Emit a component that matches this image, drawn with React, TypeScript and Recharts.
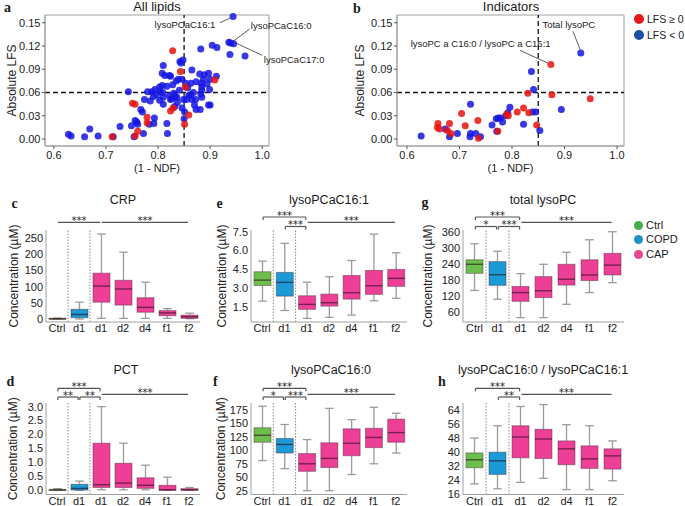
import React from 'react';
import {
  ScatterChart, Scatter, ComposedChart, Bar, XAxis, YAxis,
  ReferenceLine, ReferenceArea, ReferenceDot,
} from 'recharts';

const SANS = '"Liberation Sans", Arial, Helvetica, sans-serif';
const SERIF = '"Liberation Serif", "Times New Roman", serif';

// ---------------- Panels a / b : LFS vs (1 - NDF) ----------------
const ndfTicks = [0.6, 0.7, 0.8, 0.9, 1.0];
const lfsTicks = [0, 0.03, 0.06, 0.09, 0.12, 0.15];
const ndfCutoff = 0.85;
const lfsCutoff = 0.06;

const allLipidsPos: [number, number][] = [
  [0.712, 0.003], [0.756, 0.004], [0.761, 0.010], [0.751, 0.046], [0.756, 0.045],
  [0.779, 0.028], [0.779, 0.021], [0.824, 0.036], [0.829, 0.040], [0.828, 0.114],
  [0.843, 0.087], [0.851, 0.019], [0.852, 0.067], [0.859, 0.031], [0.909, 0.076],
];
const allLipidsNeg: [number, number][] = [
  [0.628, 0.006], [0.633, 0.004], [0.659, 0.003], [0.669, 0.013], [0.685, 0.004],
  [0.714, 0.003], [0.727, 0.016], [0.743, 0.061], [0.749, 0.017], [0.756, 0.024],
  [0.759, 0.022], [0.761, 0.019], [0.754, 0.003], [0.772, 0.007], [0.767, 0.038],
  [0.770, 0.035], [0.774, 0.051], [0.780, 0.061], [0.783, 0.019], [0.785, 0.049],
  [0.788, 0.061], [0.792, 0.020], [0.793, 0.027], [0.794, 0.064], [0.803, 0.050],
  [0.804, 0.061], [0.808, 0.069], [0.810, 0.095], [0.808, 0.085], [0.810, 0.045],
  [0.809, 0.060], [0.813, 0.082], [0.817, 0.020], [0.818, 0.007], [0.822, 0.082],
  [0.822, 0.056], [0.810, 0.054], [0.826, 0.052], [0.830, 0.059], [0.833, 0.055],
  [0.836, 0.054], [0.837, 0.047], [0.828, 0.070], [0.839, 0.077], [0.835, 0.075],
  [0.842, 0.100], [0.848, 0.102], [0.844, 0.098], [0.846, 0.040], [0.849, 0.051],
  [0.850, 0.026], [0.841, 0.063], [0.846, 0.077], [0.859, 0.056], [0.854, 0.051],
  [0.857, 0.066], [0.862, 0.057], [0.865, 0.051], [0.865, 0.089], [0.863, 0.072],
  [0.868, 0.060], [0.870, 0.044], [0.873, 0.074], [0.880, 0.084], [0.881, 0.038],
  [0.882, 0.116], [0.883, 0.072], [0.884, 0.067], [0.884, 0.063], [0.884, 0.054],
  [0.887, 0.077], [0.889, 0.083], [0.894, 0.071], [0.897, 0.085], [0.899, 0.064],
  [0.900, 0.077], [0.900, 0.044], [0.897, 0.044], [0.904, 0.121], [0.913, 0.118],
  [0.912, 0.081], [0.882, 0.058], [0.936, 0.125], [0.939, 0.124], [0.945, 0.123],
  [0.944, 0.158], [0.938, 0.109], [0.967, 0.107], [0.797, 0.057], [0.803, 0.067],
  [0.817, 0.068], [0.824, 0.051], [0.832, 0.042], [0.851, 0.035], [0.853, 0.072],
  [0.872, 0.051], [0.873, 0.038], [0.791, 0.055], [0.824, 0.081],
];

const indicatorsPos: [number, number][] = [
  [0.659, 0.020], [0.658, 0.015], [0.662, 0.013], [0.677, 0.011], [0.681, 0.020],
  [0.684, 0.007], [0.704, 0.033], [0.711, 0.017], [0.735, 0.024], [0.736, 0.001],
  [0.773, 0.010], [0.790, 0.032], [0.793, 0.030], [0.810, 0.035], [0.822, 0.040],
  [0.830, 0.059], [0.832, 0.034], [0.847, 0.018], [0.874, 0.096], [0.876, 0.057],
  [0.949, 0.052],
];
const indicatorsNeg: [number, number][] = [
  [0.627, 0.004], [0.673, 0.013], [0.681, 0.003], [0.696, 0.007], [0.721, 0.045],
  [0.721, 0.007], [0.720, 0.003], [0.731, 0.007], [0.740, 0.003], [0.762, 0.018],
  [0.770, 0.026], [0.774, 0.027], [0.778, 0.027], [0.771, 0.010], [0.782, 0.022],
  [0.788, 0.030], [0.792, 0.034], [0.796, 0.041], [0.822, 0.019], [0.837, 0.087],
  [0.841, 0.064], [0.839, 0.035], [0.845, 0.035], [0.853, 0.011], [0.894, 0.038],
  [0.931, 0.111],
];

type Note = { text: string; at: [number, number]; anchor: string; from: [number, number]; to: [number, number] };
const allLipidsNotes: Note[] = [
  { text: 'lysoPCaC16:1', at: [0.910, 0.148], anchor: 'end', from: [0.919, 0.150], to: [0.938, 0.156] },
  { text: 'lysoPCaC16:0', at: [0.978, 0.146], anchor: 'start', from: [0.976, 0.142], to: [0.942, 0.125] },
  { text: 'lysoPCaC17:0', at: [1.003, 0.102], anchor: 'start', from: [1.000, 0.108], to: [0.949, 0.124] },
];
const indicatorsNotes: Note[] = [
  { text: 'Total lysoPC', at: [0.858, 0.148], anchor: 'start', from: [0.916, 0.139], to: [0.930, 0.115] },
  { text: 'lysoPC a C16:0 / lysoPC a C16:1', at: [0.607, 0.123], anchor: 'start', from: [0.815, 0.1145], to: [0.868, 0.098] },
];

// ---------------- Panels c-h : box plots ----------------
const groupLabels = ['Ctrl', 'd1', 'd1', 'd2', 'd4', 'f1', 'f2'];
const groupOf = ['Ctrl', 'COPD', 'CAP', 'CAP', 'CAP', 'CAP', 'CAP'];
const legendGroups = ['Ctrl', 'COPD', 'CAP'];

// [min, q1, median, q3, max]
const crpStats = [[0, 0.5, 1, 2, 3], [0, 4, 14, 30, 52], [2, 52, 102, 142, 263], [2, 43, 93, 120, 207], [2, 21, 36, 66, 114], [2, 10, 19, 26, 32], [1, 2, 7, 12, 18]];
const c161Stats = [[1.95, 3.2, 3.63, 4.3, 5.15], [1.2, 2.35, 3.45, 4.25, 6.57], [0.57, 1.29, 1.69, 2.38, 3.47], [0.65, 1.55, 1.82, 2.51, 3.9], [0.83, 2.11, 2.62, 4.0, 5.2], [1.98, 2.49, 3.18, 4.41, 7.31], [2.17, 3.13, 3.77, 4.49, 5.82]];
const totalStats = [[142, 206, 240, 257, 317], [109, 161, 201, 250, 289], [40, 101, 134, 157, 205], [40, 115, 141, 194, 240], [90, 162, 184, 240, 285], [134, 179, 200, 257, 332], [171, 200, 237, 281, 362]];
const pctStats = [[0, 0, 0.01, 0.035, 0.06], [0, 0.01, 0.07, 0.215, 0.33], [0.02, 0.1, 0.2, 1.69, 3.0], [0.02, 0.1, 0.26, 0.97, 1.69], [0.02, 0.07, 0.18, 0.45, 0.9], [0, 0, 0.02, 0.18, 0.47], [0, 0, 0.02, 0.06, 0.1]];
const c160Stats = [[81, 115, 128, 142, 182], [66, 95, 111, 122, 148], [25, 61, 75, 94, 120], [25, 68, 85, 114, 178], [55, 90, 113, 140, 157], [75, 105, 124, 141, 180], [95, 115, 133, 158, 169]];
const ratioStats = [[22, 31.2, 35.7, 39.6, 48], [19.2, 27.4, 35.1, 40, 55], [22.9, 36.8, 48.6, 55, 65.9], [25.2, 36.4, 47.5, 53, 67], [18.8, 32.9, 41.9, 46.4, 55.6], [18.8, 30.8, 36.2, 43.6, 55], [23.8, 30.4, 37.9, 41.9, 46.4]];

const crpTicks = [0, 50, 100, 150, 200, 250];
const c161Ticks = [1.5, 3.0, 4.5, 6.0, 7.5];
const totalTicks = [60, 120, 180, 240, 300, 360];
const pctTicks = [0, 0.5, 1.0, 1.5, 2.0, 2.5, 3.0];
const c160Ticks = [25, 50, 75, 100, 125, 150, 175];
const ratioTicks = [16, 24, 32, 40, 48, 56, 64];

type Sig = { from: number; to: number; label: string; tier: number; bracket: boolean };
const crpSig: Sig[] = [
  { from: 0, to: 2, label: '***', tier: 1, bracket: false },
  { from: 2, to: 6, label: '***', tier: 1, bracket: false },
];
const c161Sig: Sig[] = [
  { from: 0, to: 2, label: '***', tier: 2, bracket: true },
  { from: 1, to: 2, label: '***', tier: 0, bracket: true },
  { from: 2, to: 6, label: '***', tier: 1, bracket: false },
];
const totalSig: Sig[] = [
  { from: 0, to: 2, label: '***', tier: 2, bracket: true },
  { from: 0, to: 1, label: '*', tier: 0, bracket: true },
  { from: 1, to: 2, label: '***', tier: 0, bracket: true },
  { from: 2, to: 6, label: '***', tier: 1, bracket: false },
];
const pctSig: Sig[] = [
  { from: 0, to: 2, label: '***', tier: 2, bracket: true },
  { from: 0, to: 1, label: '**', tier: 0, bracket: true },
  { from: 1, to: 2, label: '**', tier: 0, bracket: true },
  { from: 2, to: 6, label: '***', tier: 1, bracket: false },
];
const c160Sig: Sig[] = [
  { from: 0, to: 2, label: '***', tier: 2, bracket: true },
  { from: 0, to: 1, label: '*', tier: 0, bracket: true },
  { from: 1, to: 2, label: '***', tier: 0, bracket: true },
  { from: 2, to: 6, label: '***', tier: 1, bracket: false },
];
const ratioSig: Sig[] = [
  { from: 0, to: 2, label: '***', tier: 2, bracket: true },
  { from: 1, to: 2, label: '**', tier: 0, bracket: true },
  { from: 2, to: 6, label: '***', tier: 1, bracket: false },
];

// ---------------- styles ----------------
const RED = '#e8140f';
const BLUE = '#1515e2';
const GROUP_FILL: Record<string, string> = { Ctrl: '#6bbf4a', COPD: '#1a9ad6', CAP: '#ee3f97' };
const LEGEND_FILL: Record<string, string> = { Ctrl: '#46ad4f', COPD: '#1f93bf', CAP: '#ea4590' };
const ROW1_TIERS = [3.5, 7.7, 13];
const ROW2_TIERS = [6, 8.7, 14.7];

const dotShape = (color: string) => (p: any) =>
  p && p.cx != null ? <circle cx={p.cx} cy={p.cy} r={3.5} fill={color} fillOpacity={0.85} /> : <g />;

function LfsScatter({ left, width, axisW, right, pos, neg, notes, ylabelOffset, xDomain }: any) {
  const yDomain: [number, number] = [-0.009, 0.16];
  const toPts = (arr: [number, number][]) => arr.map(([x, y]) => ({ x, y }));
  return (
    <div style={{ position: 'absolute', left, top: 0 }}>
      <ScatterChart width={width} height={176} margin={{ top: 15, right, bottom: 0, left: 0 }}>
        <XAxis type="number" dataKey="x" domain={xDomain} ticks={ndfTicks} interval={0}
          tickFormatter={(v: number) => v.toFixed(1)} height={30} tickSize={3} tickMargin={2}
          axisLine={{ stroke: '#a0a0a0' }} tickLine={{ stroke: '#555' }} tick={{ fontSize: 11, fill: '#222' }}
          label={{ value: '(1 - NDF)', position: 'insideBottom', offset: 4, fontSize: 11, fill: '#222' }} />
        <YAxis type="number" dataKey="y" domain={yDomain} ticks={lfsTicks} interval={0}
          tickFormatter={(v: number) => v.toFixed(2)} width={axisW} tickSize={3} tickMargin={1.5}
          axisLine={{ stroke: '#a0a0a0' }} tickLine={{ stroke: '#555' }} tick={{ fontSize: 11, fill: '#222' }}
          label={{ value: 'Absolute LFS', angle: -90, position: 'insideLeft', offset: ylabelOffset, style: { textAnchor: 'middle' }, fontSize: 12, fill: '#222' }} />
        <ReferenceArea x1={xDomain[0]} x2={xDomain[1]} y1={yDomain[0]} y2={yDomain[1]} fill="none" fillOpacity={0} stroke="#a0a0a0" strokeWidth={1} ifOverflow="visible" />
        <Scatter data={toPts(neg)} fill={BLUE} shape={dotShape(BLUE)} isAnimationActive={false} />
        <Scatter data={toPts(pos)} fill={RED} shape={dotShape(RED)} isAnimationActive={false} />
        <ReferenceLine x={ndfCutoff} stroke="#111" strokeDasharray="5 3" strokeWidth={1.3} />
        <ReferenceLine y={lfsCutoff} stroke="#111" strokeDasharray="5 3" strokeWidth={1.3} />
        {notes.map((n: Note, k: number) => (
          <ReferenceLine key={'nl' + k} segment={[{ x: n.from[0], y: n.from[1] }, { x: n.to[0], y: n.to[1] }]}
            stroke="#333" strokeWidth={0.8} ifOverflow="visible" />
        ))}
        {notes.map((n: Note, k: number) => (
          <ReferenceDot key={'nt' + k} x={n.at[0]} y={n.at[1]} r={0} ifOverflow="visible" stroke="none" fill="none"
            label={{ value: n.text, position: 'center', fontSize: 9.5, fill: '#222', style: { textAnchor: n.anchor } }} />
        ))}
      </ScatterChart>
    </div>
  );
}

function BoxShape(props: any) {
  const { x, y, width, height } = props;
  const d = props.payload;
  if (!d || x == null || y == null) return <g />;
  const top = Math.min(y, y + height);
  const bot = Math.max(y, y + height);
  const span = d.hi - d.lo || 1;
  const py = (v: number) => bot - ((v - d.lo) / span) * (bot - top);
  const cx = x + width / 2;
  const capHalf = width * 0.25;
  const wh = { stroke: '#9b9b9b', strokeWidth: 1.3 };
  return (
    <g>
      <line x1={cx} x2={cx} y1={py(d.hi)} y2={py(d.q3)} {...wh} />
      <line x1={cx} x2={cx} y1={py(d.q1)} y2={py(d.lo)} {...wh} />
      <line x1={cx - capHalf} x2={cx + capHalf} y1={py(d.hi)} y2={py(d.hi)} {...wh} />
      <line x1={cx - capHalf} x2={cx + capHalf} y1={py(d.lo)} y2={py(d.lo)} {...wh} />
      <rect x={x} y={py(d.q3)} width={width} height={Math.max(py(d.q1) - py(d.q3), 1)}
        fill={GROUP_FILL[d.group]} stroke="rgba(70,40,55,0.45)" strokeWidth={1} />
      <line x1={x} x2={x + width} y1={py(d.med)} y2={py(d.med)} stroke="rgba(40,10,30,0.6)" strokeWidth={1.4} />
    </g>
  );
}

function BoxPanel({ left, top, width, height, marginTop, right, axisW, axisH, stats, domain, ticks, fmt, sig, tiers, ylabelOffset, showYLabel }: any) {
  const data = stats.map((s: number[], i: number) => ({ i, lo: s[0], q1: s[1], med: s[2], q3: s[3], hi: s[4], group: groupOf[i] }));
  const plotH = height - marginTop - axisH;
  const upp = (domain[1] - domain[0]) / plotH;
  const inset = 0.04;
  const separators = groupOf.map((g, i) => (i > 0 && g !== groupOf[i - 1] ? i - 0.5 : null)).filter((v) => v !== null) as number[];
  const idx = groupLabels.map((_, i) => i);
  const sigEls: any[] = [];
  sig.forEach((s: Sig, k: number) => {
    const yv = domain[1] + tiers[s.tier] * upp;
    const yd = yv - 3 * upp;
    const x1 = s.from + inset;
    const x2 = s.to - inset;
    sigEls.push(
      <ReferenceLine key={'s' + k} segment={[{ x: x1, y: yv }, { x: x2, y: yv }]} ifOverflow="visible" stroke="#555" strokeWidth={1.2}
        label={{ value: s.label, position: 'top', offset: -1.5, fontSize: 10, fill: '#222', style: { fontFamily: '"DejaVu Sans", sans-serif' } }} />
    );
    if (s.bracket) {
      sigEls.push(<ReferenceLine key={'a' + k} segment={[{ x: x1, y: yv }, { x: x1, y: yd }]} ifOverflow="visible" stroke="#555" strokeWidth={1.2} />);
      sigEls.push(<ReferenceLine key={'b' + k} segment={[{ x: x2, y: yv }, { x: x2, y: yd }]} ifOverflow="visible" stroke="#555" strokeWidth={1.2} />);
    }
  });
  return (
    <div style={{ position: 'absolute', left, top }}>
      <ComposedChart width={width} height={height} data={data} margin={{ top: marginTop, right, bottom: 0, left: 0 }}>
        <XAxis type="number" dataKey="i" domain={[-0.5, idx.length - 0.5]} ticks={idx} interval={0}
          tickFormatter={(v: number) => groupLabels[v] ?? ''} height={axisH} tickSize={0} tickMargin={2.5}
          axisLine={{ stroke: '#a0a0a0' }} tickLine={false} tick={{ fontSize: 11, fill: '#222' }} />
        <YAxis type="number" domain={domain} ticks={ticks} interval={0} tickFormatter={fmt} width={axisW}
          tickSize={0} tickMargin={3} axisLine={{ stroke: '#a0a0a0' }} tickLine={false} tick={{ fontSize: 11, fill: '#222' }}
          label={showYLabel ? { value: 'Concentration (µM)', angle: -90, position: 'insideLeft', offset: ylabelOffset, style: { textAnchor: 'middle' }, fontSize: 12, fill: '#222' } : undefined} />
        {separators.map((s) => (
          <ReferenceLine key={'sep' + s} x={s} stroke="#8a8a8a" strokeDasharray="1.5 1.5" strokeWidth={1} />
        ))}
        <Bar dataKey={(d: any) => [d.lo, d.hi]} barSize={17} shape={BoxShape} isAnimationActive={false} />
        {sigEls}
      </ComposedChart>
    </div>
  );
}

function Txt({ x, baseline, size, anchor = 'middle', family = SANS, weight = 'normal', children }: any) {
  const topOff = baseline - size * 0.85;
  const common: any = { position: 'absolute', top: topOff, fontSize: size, lineHeight: 1, fontFamily: family, fontWeight: weight, whiteSpace: 'nowrap', color: '#1a1a1a' };
  if (anchor === 'middle') return <div style={{ ...common, left: x - 200, width: 400, textAlign: 'center' }}>{children}</div>;
  return <div style={{ ...common, left: x }}>{children}</div>;
}

function Letter({ x, baseline, ch }: any) {
  return <Txt x={x} baseline={baseline} size={14} anchor="start" family={SERIF} weight="bold">{ch}</Txt>;
}

const fmtInt = (v: number) => String(v);
const fmt1 = (v: number) => v.toFixed(1);

export default function App() {
  return (
    <div style={{ position: 'absolute', left: 0, top: 0, width: 685, height: 506, background: '#fff', fontFamily: SANS, overflow: 'hidden' }}>
      {/* scatter panels */}
      <LfsScatter left={0} width={340} axisW={45} right={71} pos={allLipidsPos} neg={allLipidsNeg}
        notes={allLipidsNotes} ylabelOffset={12} xDomain={[0.583, 1.013]} />
      <LfsScatter left={350} width={335} axisW={47} right={61} pos={indicatorsPos} neg={indicatorsNeg}
        notes={indicatorsNotes} ylabelOffset={10} xDomain={[0.581, 1.0133]} />
      <Txt x={157} baseline={10.7} size={13}>All lipids</Txt>
      <Txt x={511} baseline={10.7} size={13}>Indicators</Txt>
      <Letter x={4} baseline={13.3} ch="a" />
      <Letter x={353} baseline={14} ch="b" />

      {/* scatter legend */}
      <div style={{ position: 'absolute', left: 634, top: 14, width: 10, height: 10, borderRadius: 5, background: '#e41a1c' }} />
      <Txt x={647} baseline={22.8} size={10.5} anchor="start">LFS ≥ 0</Txt>
      <div style={{ position: 'absolute', left: 634, top: 30, width: 10, height: 10, borderRadius: 5, background: '#1b4fa8' }} />
      <Txt x={647} baseline={38.8} size={10.5} anchor="start">LFS &lt; 0</Txt>

      {/* row 1 box plots */}
      <BoxPanel left={0} top={205} width={205} height={135} marginTop={25} right={5} axisW={46} axisH={18}
        stats={crpStats} domain={[-9.3, 275.7]} ticks={crpTicks} fmt={fmtInt} sig={crpSig} tiers={ROW1_TIERS}
        ylabelOffset={14} showYLabel />
      <BoxPanel left={205} top={205} width={207} height={135} marginTop={25} right={5} axisW={46} axisH={18}
        stats={c161Stats} domain={[0.28, 7.64]} ticks={c161Ticks} fmt={fmt1} sig={c161Sig} tiers={ROW1_TIERS}
        ylabelOffset={17} showYLabel />
      <BoxPanel left={415} top={205} width={214} height={135} marginTop={25} right={5} axisW={48} axisH={18}
        stats={totalStats} domain={[23.6, 368.6]} ticks={totalTicks} fmt={fmtInt} sig={totalSig} tiers={ROW1_TIERS}
        ylabelOffset={13} showYLabel />
      <Txt x={123} baseline={204.3} size={12.5}>CRP</Txt>
      <Txt x={329} baseline={204.3} size={12.5}>lysoPCaC16:1</Txt>
      <Txt x={543} baseline={204.3} size={12.5}>total lysoPC</Txt>
      <Letter x={11.5} baseline={209} ch="c" />
      <Letter x={216.5} baseline={209} ch="e" />
      <Letter x={421.5} baseline={207.5} ch="g" />

      {/* box legend */}
      {legendGroups.map((g, k) => (
        <React.Fragment key={g}>
          <div style={{ position: 'absolute', left: 633.5, top: 220.5 + k * 14.5, width: 9, height: 9, borderRadius: 4.5, background: LEGEND_FILL[g] }} />
          <Txt x={646} baseline={229 + k * 14.5} size={11} anchor="start">{g}</Txt>
        </React.Fragment>
      ))}

      {/* row 2 box plots */}
      <BoxPanel left={0} top={378} width={205} height={128} marginTop={25} right={5} axisW={46} axisH={11.5}
        stats={pctStats} domain={[-0.15, 3.13]} ticks={pctTicks} fmt={fmt1} sig={pctSig} tiers={ROW2_TIERS}
        ylabelOffset={13} showYLabel />
      <BoxPanel left={205} top={378} width={207} height={128} marginTop={25} right={5} axisW={46} axisH={11.5}
        stats={c160Stats} domain={[17.9, 188]} ticks={c160Ticks} fmt={fmtInt} sig={c160Sig} tiers={ROW2_TIERS}
        ylabelOffset={16} showYLabel />
      <BoxPanel left={415} top={378} width={214} height={128} marginTop={25} right={5} axisW={48} axisH={11.5}
        stats={ratioStats} domain={[16, 67.9]} ticks={ratioTicks} fmt={fmtInt} sig={ratioSig} tiers={ROW2_TIERS}
        ylabelOffset={13} showYLabel={false} />
      <Txt x={126} baseline={374.3} size={12.5}>PCT</Txt>
      <Txt x={331} baseline={374.3} size={12.5}>lysoPCaC16:0</Txt>
      <Txt x={543} baseline={374.3} size={12.5}>lysoPCaC16:0 / lysoPCaC16:1</Txt>
      <Letter x={6.5} baseline={387} ch="d" />
      <Letter x={213} baseline={387} ch="f" />
      <Letter x={438} baseline={387} ch="h" />
    </div>
  );
}
